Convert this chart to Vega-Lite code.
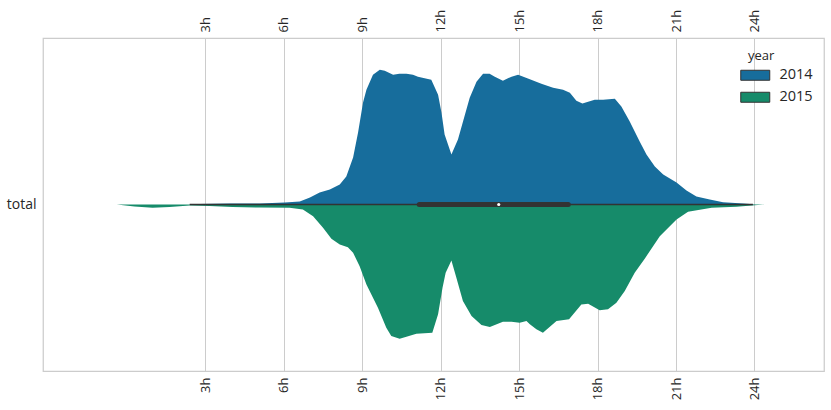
{
  "$schema": "https://vega.github.io/schema/vega-lite/v6.json",
  "width": 781,
  "height": 333,
  "autosize": {"type": "none"},
  "padding": {"left": 43, "top": 38, "right": 7, "bottom": 39},
  "config": {
    "font": "Open Sans",
    "view": {"stroke": "#cccccc", "strokeWidth": 1.25},
    "axis": {
      "labelColor": "#262626",
      "labelFontSize": 13,
      "ticks": false,
      "domain": false,
      "title": null,
      "gridColor": "#cccccc",
      "gridWidth": 1
    }
  },
  "datasets": {
    "density": [
      {"year": "2014", "hour": 2.4, "density": 0},
      {"year": "2014", "hour": 2.78, "density": 0.0005},
      {"year": "2014", "hour": 3.93, "density": 0.001},
      {"year": "2014", "hour": 5.08, "density": 0.001},
      {"year": "2014", "hour": 6.03, "density": 0.002},
      {"year": "2014", "hour": 6.61, "density": 0.003},
      {"year": "2014", "hour": 7.0, "density": 0.007},
      {"year": "2014", "hour": 7.37, "density": 0.012},
      {"year": "2014", "hour": 7.76, "density": 0.015},
      {"year": "2014", "hour": 8.14, "density": 0.02},
      {"year": "2014", "hour": 8.39, "density": 0.028},
      {"year": "2014", "hour": 8.65, "density": 0.047},
      {"year": "2014", "hour": 8.84, "density": 0.072},
      {"year": "2014", "hour": 9.03, "density": 0.102},
      {"year": "2014", "hour": 9.16, "density": 0.115},
      {"year": "2014", "hour": 9.41, "density": 0.13},
      {"year": "2014", "hour": 9.67, "density": 0.135},
      {"year": "2014", "hour": 9.86, "density": 0.134},
      {"year": "2014", "hour": 10.18, "density": 0.13},
      {"year": "2014", "hour": 10.42, "density": 0.131},
      {"year": "2014", "hour": 10.69, "density": 0.131},
      {"year": "2014", "hour": 10.94, "density": 0.13},
      {"year": "2014", "hour": 11.13, "density": 0.128},
      {"year": "2014", "hour": 11.64, "density": 0.125},
      {"year": "2014", "hour": 11.9, "density": 0.11},
      {"year": "2014", "hour": 12.03, "density": 0.092},
      {"year": "2014", "hour": 12.15, "density": 0.07},
      {"year": "2014", "hour": 12.41, "density": 0.05},
      {"year": "2014", "hour": 12.66, "density": 0.065},
      {"year": "2014", "hour": 13.11, "density": 0.107},
      {"year": "2014", "hour": 13.37, "density": 0.123},
      {"year": "2014", "hour": 13.62, "density": 0.131},
      {"year": "2014", "hour": 13.87, "density": 0.131},
      {"year": "2014", "hour": 14.07, "density": 0.128},
      {"year": "2014", "hour": 14.38, "density": 0.124},
      {"year": "2014", "hour": 14.71, "density": 0.128},
      {"year": "2014", "hour": 14.96, "density": 0.13},
      {"year": "2014", "hour": 15.41, "density": 0.1255},
      {"year": "2014", "hour": 15.85, "density": 0.121},
      {"year": "2014", "hour": 16.3, "density": 0.117},
      {"year": "2014", "hour": 16.68, "density": 0.115},
      {"year": "2014", "hour": 16.94, "density": 0.112},
      {"year": "2014", "hour": 17.19, "density": 0.104},
      {"year": "2014", "hour": 17.42, "density": 0.101},
      {"year": "2014", "hour": 17.89, "density": 0.105},
      {"year": "2014", "hour": 18.21, "density": 0.105},
      {"year": "2014", "hour": 18.66, "density": 0.106},
      {"year": "2014", "hour": 18.91, "density": 0.098},
      {"year": "2014", "hour": 19.23, "density": 0.083},
      {"year": "2014", "hour": 19.61, "density": 0.063},
      {"year": "2014", "hour": 19.87, "density": 0.05},
      {"year": "2014", "hour": 20.19, "density": 0.038},
      {"year": "2014", "hour": 20.51, "density": 0.03},
      {"year": "2014", "hour": 21.02, "density": 0.022},
      {"year": "2014", "hour": 21.4, "density": 0.014},
      {"year": "2014", "hour": 21.78, "density": 0.008},
      {"year": "2014", "hour": 22.29, "density": 0.005},
      {"year": "2014", "hour": 22.8, "density": 0.0023},
      {"year": "2014", "hour": 23.57, "density": 0.001},
      {"year": "2014", "hour": 24.08, "density": 0},
      {"year": "2015", "hour": -0.39, "density": 0},
      {"year": "2015", "hour": 0.29, "density": 0.002},
      {"year": "2015", "hour": 0.98, "density": 0.0033},
      {"year": "2015", "hour": 1.63, "density": 0.0025},
      {"year": "2015", "hour": 2.4, "density": 0.001},
      {"year": "2015", "hour": 3.16, "density": 0.0015},
      {"year": "2015", "hour": 4.04, "density": 0.0025},
      {"year": "2015", "hour": 5.08, "density": 0.003},
      {"year": "2015", "hour": 6.22, "density": 0.0033},
      {"year": "2015", "hour": 6.73, "density": 0.005},
      {"year": "2015", "hour": 7.12, "density": 0.0117},
      {"year": "2015", "hour": 7.5, "density": 0.0233},
      {"year": "2015", "hour": 7.82, "density": 0.0343},
      {"year": "2015", "hour": 8.14, "density": 0.04},
      {"year": "2015", "hour": 8.45, "density": 0.0427},
      {"year": "2015", "hour": 8.65, "density": 0.0483},
      {"year": "2015", "hour": 8.9, "density": 0.0617},
      {"year": "2015", "hour": 9.16, "density": 0.08},
      {"year": "2015", "hour": 9.6, "density": 0.1033},
      {"year": "2015", "hour": 9.92, "density": 0.1233},
      {"year": "2015", "hour": 10.11, "density": 0.1317},
      {"year": "2015", "hour": 10.43, "density": 0.1343},
      {"year": "2015", "hour": 10.69, "density": 0.1323},
      {"year": "2015", "hour": 11.07, "density": 0.1293},
      {"year": "2015", "hour": 11.68, "density": 0.1283},
      {"year": "2015", "hour": 11.9, "density": 0.11},
      {"year": "2015", "hour": 12.07, "density": 0.0833},
      {"year": "2015", "hour": 12.19, "density": 0.0683},
      {"year": "2015", "hour": 12.41, "density": 0.056},
      {"year": "2015", "hour": 12.6, "density": 0.0733},
      {"year": "2015", "hour": 12.85, "density": 0.0967},
      {"year": "2015", "hour": 13.18, "density": 0.1117},
      {"year": "2015", "hour": 13.56, "density": 0.1207},
      {"year": "2015", "hour": 13.88, "density": 0.1227},
      {"year": "2015", "hour": 14.38, "density": 0.1173},
      {"year": "2015", "hour": 14.71, "density": 0.1173},
      {"year": "2015", "hour": 15.02, "density": 0.1183},
      {"year": "2015", "hour": 15.28, "density": 0.1167},
      {"year": "2015", "hour": 15.41, "density": 0.12},
      {"year": "2015", "hour": 15.66, "density": 0.125},
      {"year": "2015", "hour": 15.91, "density": 0.1283},
      {"year": "2015", "hour": 16.43, "density": 0.1167},
      {"year": "2015", "hour": 16.91, "density": 0.115},
      {"year": "2015", "hour": 17.38, "density": 0.1},
      {"year": "2015", "hour": 17.64, "density": 0.0993},
      {"year": "2015", "hour": 18.08, "density": 0.106},
      {"year": "2015", "hour": 18.4, "density": 0.105},
      {"year": "2015", "hour": 18.72, "density": 0.0983},
      {"year": "2015", "hour": 19.04, "density": 0.0867},
      {"year": "2015", "hour": 19.42, "density": 0.0683},
      {"year": "2015", "hour": 19.81, "density": 0.054},
      {"year": "2015", "hour": 20.38, "density": 0.0317},
      {"year": "2015", "hour": 21.02, "density": 0.015},
      {"year": "2015", "hour": 21.46, "density": 0.0073},
      {"year": "2015", "hour": 22.36, "density": 0.0033},
      {"year": "2015", "hour": 23.31, "density": 0.0023},
      {"year": "2015", "hour": 24.4, "density": 0}
    ],
    "box": [
      {"cat": "total", "lo": 2.4, "q1": 11.18, "med": 14.22, "q3": 16.88, "hi": 23.94}
    ]
  },
  "layer": [
    {
      "data": {"name": "density"},
      "transform": [{"filter": "datum.year == '2014'"}],
      "mark": {"type": "area", "interpolate": "linear", "opacity": 1},
      "encoding": {
        "x": {
          "field": "hour",
          "type": "quantitative",
          "scale": {"domain": [-3.21, 26.66], "nice": false, "zero": false},
          "axis": {
            "orient": "bottom",
            "values": [3, 6, 9, 12, 15, 18, 21, 24],
            "labelExpr": "datum.value + 'h'",
            "labelAngle": -90,
            "labelAlign": "right",
            "labelBaseline": "middle",
            "labelPadding": 6,
            "grid": true
          }
        },
        "y": {
          "field": "density",
          "type": "quantitative",
          "stack": null,
          "scale": {"domain": [-0.1667, 0.1667], "nice": false},
          "axis": null
        },
        "color": {
          "field": "year",
          "type": "nominal",
          "scale": {"domain": ["2014", "2015"], "range": ["#176d9c", "#168b6a"]},
          "legend": {
            "orient": "none",
            "legendX": 705,
            "legendY": 12,
            "title": "\u00a0\u00a0\u00a0\u00a0year",
            "titleFontSize": 13,
            "titleFontWeight": "normal",
            "titleColor": "#262626",
            "titleAnchor": "start",
            "titleAlign": "left",
            "labelFontSize": 14.5,
            "labelColor": "#262626",
            "symbolType": "M-2.9,-1H2.9V1H-2.9Z",
            "symbolSize": 100,
            "symbolStrokeColor": "#333333",
            "symbolStrokeWidth": 1,
            "symbolOpacity": 1,
            "labelOffset": 17,
            "rowPadding": 6,
            "padding": 0
          }
        }
      }
    },
    {
      "data": {"name": "density"},
      "transform": [{"filter": "datum.year == '2015'"}],
      "mark": {"type": "area", "interpolate": "linear", "opacity": 1},
      "encoding": {
        "x": {
          "field": "hour",
          "type": "quantitative",
          "scale": {"domain": [-3.21, 26.66], "nice": false, "zero": false},
          "axis": {
            "orient": "top",
            "values": [3, 6, 9, 12, 15, 18, 21, 24],
            "labelExpr": "datum.value + 'h'",
            "labelAngle": -90,
            "labelAlign": "left",
            "labelBaseline": "middle",
            "labelPadding": 6,
            "grid": false
          }
        },
        "y": {
          "field": "density",
          "type": "quantitative",
          "stack": null,
          "scale": {"domain": [-0.1667, 0.1667], "nice": false, "reverse": true},
          "axis": null
        },
        "color": {"field": "year", "type": "nominal"}
      }
    },
    {
      "data": {"name": "box"},
      "mark": {"type": "rule", "color": "#333333", "strokeWidth": 1.7},
      "encoding": {
        "x": {"field": "lo", "type": "quantitative", "scale": {"domain": [-3.21, 26.66], "nice": false, "zero": false}, "axis": null},
        "x2": {"field": "hi"},
        "y": {"field": "cat", "type": "nominal", "axis": {"labelFontSize": 14, "labelPadding": 7, "grid": false, "labelAngle": 0}}
      }
    },
    {
      "data": {"name": "box"},
      "mark": {"type": "rule", "color": "#333333", "strokeWidth": 5, "strokeCap": "round"},
      "encoding": {
        "x": {"field": "q1", "type": "quantitative", "scale": {"domain": [-3.21, 26.66], "nice": false, "zero": false}, "axis": null},
        "x2": {"field": "q3"},
        "y": {"field": "cat", "type": "nominal", "axis": null}
      }
    },
    {
      "data": {"name": "box"},
      "mark": {"type": "point", "filled": true, "color": "white", "size": 10, "opacity": 1},
      "encoding": {
        "x": {"field": "med", "type": "quantitative", "scale": {"domain": [-3.21, 26.66], "nice": false, "zero": false}, "axis": null},
        "y": {"field": "cat", "type": "nominal", "axis": null}
      }
    }
  ],
  "resolve": {"scale": {"y": "independent"}, "axis": {"x": "independent"}}
}
